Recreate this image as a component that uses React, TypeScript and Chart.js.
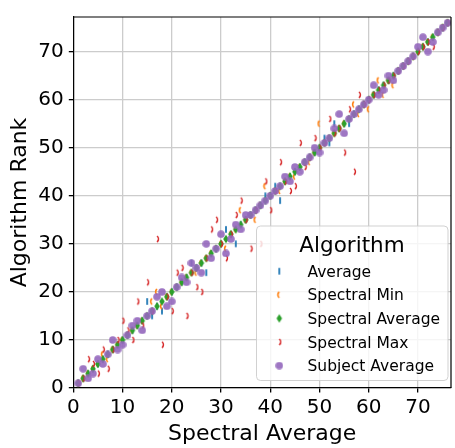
import React, { useEffect, useRef } from 'react';
import { Chart, registerables } from 'chart.js';

Chart.register(...registerables);

// ---- data ----
const spectralAverageRanks = [
  1, 2, 3, 4, 5, 6, 7, 8, 9, 10, 11, 12, 13, 14, 15, 16, 17, 18, 19, 20,
  21, 22, 23, 24, 25, 26, 27, 28, 29, 30, 31, 32, 33, 34, 35, 36, 37, 38, 39, 40,
  41, 42, 43, 44, 45, 46, 47, 48, 49, 50, 51, 52, 53, 54, 55, 56, 57, 58, 59, 60,
  61, 62, 63, 64, 65, 66, 67, 68, 69, 70, 71, 72, 73, 74, 75, 76,
];

const averageRanks = [
  1, 2, 3, 4, 5, 6, 7, 8, 9, 10, 11, 12, 13, 14, 18, 15, 17, 16, 19, 20,
  21, 22, 23, 26, 25, 26, 24, 28, 29, 30, 33, 32, 30, 34, 35, 36, 37, 38, 40, 40,
  42, 39, 43, 44, 45, 46, 47, 48, 49, 50, 52, 51, 55, 54, 55, 55, 57, 58, 59, 60,
  61, 62, 63, 64, 65, 66, 67, 68, 69, 70, 71, 72, 73, 74, 75, 76,
];

const spectralMinRanks = [
  1, 2, 3, 4, 5, 7, 6, 8, 9, 10, 11, 12, 13, 14, 15, 18, 20, 17, 19, 20,
  21, 22, 23, 24, 24, 26, 27, 28, 29, 30, 29, 32, 33, 37, 35, 36, 35, 38, 42, 40,
  41, 41, 43, 44, 44, 46, 47, 47, 49, 55, 51, 52, 53, 54, 55, 56, 59, 57, 59, 58,
  61, 64, 61, 64, 63, 66, 67, 68, 69, 70, 71, 72, 73, 74, 75, 76,
];

const spectralMaxRanks = [
  1, 2, 6, 5, 3, 8, 4, 8, 10, 14, 12, 10, 18, 13, 22, 16, 31, 9, 19, 16,
  24, 25, 15, 24, 21, 20, 27, 33, 35, 30, 27, 32, 36, 39, 35, 29, 37, 30, 43, 37,
  41, 47, 43, 41, 42, 51, 46, 48, 52, 50, 51, 56, 53, 54, 49, 58, 45, 61, 59, 60,
  61, 62, 63, 64, 65, 66, 67, 68, 69, 70, 71, 72, 71, 74, 75, 76,
];

const subjectAverageRanks = [
  1, 4, 2, 3, 6, 5, 7, 10, 8, 9, 11, 13, 14, 12, 15, 16, 19, 20, 17, 18,
  21, 23, 22, 26, 25, 24, 30, 27, 29, 32, 28, 31, 34, 33, 36, 36, 37, 38, 39, 40,
  41, 42, 44, 43, 46, 45, 47, 48, 50, 49, 51, 52, 54, 57, 53, 56, 57, 58, 59, 60,
  63, 61, 62, 65, 64, 66, 67, 68, 69, 71, 73, 70, 72, 74, 75, 76,
];

const seriesNames = ['Average', 'Spectral Min', 'Spectral Average', 'Spectral Max', 'Subject Average'];
const seriesColors = ['#1f77b4', '#ff7f0e', '#2ca02c', '#d62728', 'rgba(148,103,189,0.9)'];
const seriesValues = [averageRanks, spectralMinRanks, spectralAverageRanks, spectralMaxRanks, subjectAverageRanks];
const markerKinds = ['bar', 'lparen', 'thinDiamond', 'rparen', 'circle'];

const xTickValues = [0, 10, 20, 30, 40, 50, 60, 70];
const yTickValues = [0, 10, 20, 30, 40, 50, 60, 70];

const FONT = 'DejaVu Sans';

function makeMarker(kind: string, color: string): HTMLCanvasElement {
  const c = document.createElement('canvas');
  let w = 8, h = 10;
  if (kind === 'bar') { w = 4; h = 9; }
  if (kind === 'lparen' || kind === 'rparen') { w = 6; h = 10; }
  if (kind === 'thinDiamond') { w = 8; h = 10; }
  if (kind === 'circle') { w = 8; h = 8; }
  c.width = w; c.height = h;
  const ctx = c.getContext('2d')!;
  ctx.fillStyle = color;
  ctx.strokeStyle = color;
  if (kind === 'bar') {
    ctx.fillRect(1.1, 1.2, 1.8, 6.6);
  } else if (kind === 'lparen') {
    ctx.lineWidth = 1.6;
    ctx.beginPath();
    ctx.arc(5.6, 5, 4, Math.PI - 0.85, Math.PI + 0.85);
    ctx.stroke();
  } else if (kind === 'rparen') {
    ctx.lineWidth = 1.6;
    ctx.beginPath();
    ctx.arc(0.4, 5, 4, -0.85, 0.85);
    ctx.stroke();
  } else if (kind === 'thinDiamond') {
    ctx.beginPath();
    ctx.moveTo(4, 0.8);
    ctx.lineTo(6.8, 5);
    ctx.lineTo(4, 9.2);
    ctx.lineTo(1.2, 5);
    ctx.closePath();
    ctx.fill();
  } else {
    ctx.beginPath();
    ctx.arc(4, 4, 3.8, 0, Math.PI * 2);
    ctx.fill();
  }
  return c;
}

const framePlugin = {
  id: 'frame',
  afterDatasetsDraw(chart: any) {
    const { ctx, chartArea } = chart;
    ctx.save();
    ctx.strokeStyle = '#000';
    ctx.lineWidth = 1.2;
    ctx.beginPath();
    ctx.moveTo(chartArea.left, chartArea.top);
    ctx.lineTo(chartArea.right, chartArea.top);
    ctx.moveTo(chartArea.right, chartArea.top);
    ctx.lineTo(chartArea.right, chartArea.bottom);
    ctx.stroke();
    ctx.restore();
  },
};

const legendPlugin = {
  id: 'boxLegend',
  afterDraw(chart: any) {
    const { ctx } = chart;
    const x0 = 256.5, y0 = 226, x1 = 448, y1 = 380.5, r = 4;
    ctx.save();
    ctx.beginPath();
    ctx.moveTo(x0 + r, y0);
    ctx.lineTo(x1 - r, y0);
    ctx.quadraticCurveTo(x1, y0, x1, y0 + r);
    ctx.lineTo(x1, y1 - r);
    ctx.quadraticCurveTo(x1, y1, x1 - r, y1);
    ctx.lineTo(x0 + r, y1);
    ctx.quadraticCurveTo(x0, y1, x0, y1 - r);
    ctx.lineTo(x0, y0 + r);
    ctx.quadraticCurveTo(x0, y0, x0 + r, y0);
    ctx.closePath();
    ctx.fillStyle = 'rgba(255,255,255,0.8)';
    ctx.fill();
    ctx.strokeStyle = 'rgba(204,204,204,0.9)';
    ctx.lineWidth = 1;
    ctx.stroke();

    ctx.fillStyle = '#000';
    ctx.textAlign = 'center';
    ctx.textBaseline = 'alphabetic';
    ctx.font = `21.5px "${FONT}"`;
    ctx.fillText('Algorithm', 352, 251.7);

    ctx.textAlign = 'left';
    ctx.font = `15.5px "${FONT}"`;
    const ds = chart.data.datasets;
    [0, 1, 2, 3, 4].forEach((i, k) => {
      const base = 276.7 + k * 23.6;
      const cy = base - 5.5;
      const img = ds[i].pointStyle as HTMLCanvasElement;
      ctx.drawImage(img, 279.3 - img.width / 2, cy - img.height / 2);
      ctx.fillStyle = '#000';
      ctx.fillText(ds[i].label, 307.5, base);
    });
    ctx.restore();
  },
};

export default function App() {
  const ref = useRef<HTMLCanvasElement | null>(null);

  useEffect(() => {
    if (!ref.current) return;
    const datasets = seriesNames.map((name, s) => ({
      label: name,
      data: spectralAverageRanks.map((xv, i) => ({ x: xv, y: seriesValues[s][i] })),
      pointStyle: makeMarker(markerKinds[s], seriesColors[s]) as any,
      pointRadius: 3,
      pointHoverRadius: 3,
      backgroundColor: seriesColors[s],
      borderColor: seriesColors[s],
      showLine: false,
      order: 5 - s,
    }));

    const tickFont = { family: FONT, size: 20 };
    const titleFont = { family: FONT, size: 22 };
    const grid = { color: '#cccccc', lineWidth: 1.3, tickLength: 4.5, tickColor: '#000' };

    const chart = new Chart(ref.current, {
      type: 'scatter',
      data: { datasets },
      plugins: [framePlugin, legendPlugin],
      options: {
        animation: false,
        responsive: false,
        devicePixelRatio: 1,
        events: [],
        layout: { padding: { top: 5.7, right: 0, left: 0, bottom: 0 } },
        plugins: { legend: { display: false }, tooltip: { enabled: false } },
        scales: {
          x: {
            type: 'linear',
            min: 0,
            max: 76.7,
            afterBuildTicks: (scale: any) => { scale.ticks = xTickValues.map((v) => ({ value: v })); },
            afterFit: (scale: any) => { scale.height = 60; },
            ticks: { font: tickFont, color: '#000', padding: 3, maxRotation: 0, autoSkip: false },
            grid,
            border: { color: '#000', width: 1.2 },
            title: { display: true, text: 'Spectral Average', font: titleFont, color: '#000', padding: { top: 0, bottom: 1 } },
          },
          y: {
            type: 'linear',
            min: 0,
            max: 77.2,
            afterBuildTicks: (scale: any) => { scale.ticks = yTickValues.map((v) => ({ value: v })); },
            afterFit: (scale: any) => { scale.width = 73.3; },
            ticks: { font: tickFont, color: '#000', padding: 5, autoSkip: false },
            grid,
            border: { color: '#000', width: 1.2 },
            title: { display: true, text: 'Algorithm Rank', font: titleFont, color: '#000', padding: { top: 7.4, bottom: 0 } },
          },
        },
      } as any,
    });
    return () => chart.destroy();
  }, []);

  return (
    <div style={{ position: 'absolute', left: 0, top: 0, width: 455, height: 448 }}>
      <canvas ref={ref} width={455} height={448} style={{ display: 'block', width: 455, height: 448 }} />
    </div>
  );
}
